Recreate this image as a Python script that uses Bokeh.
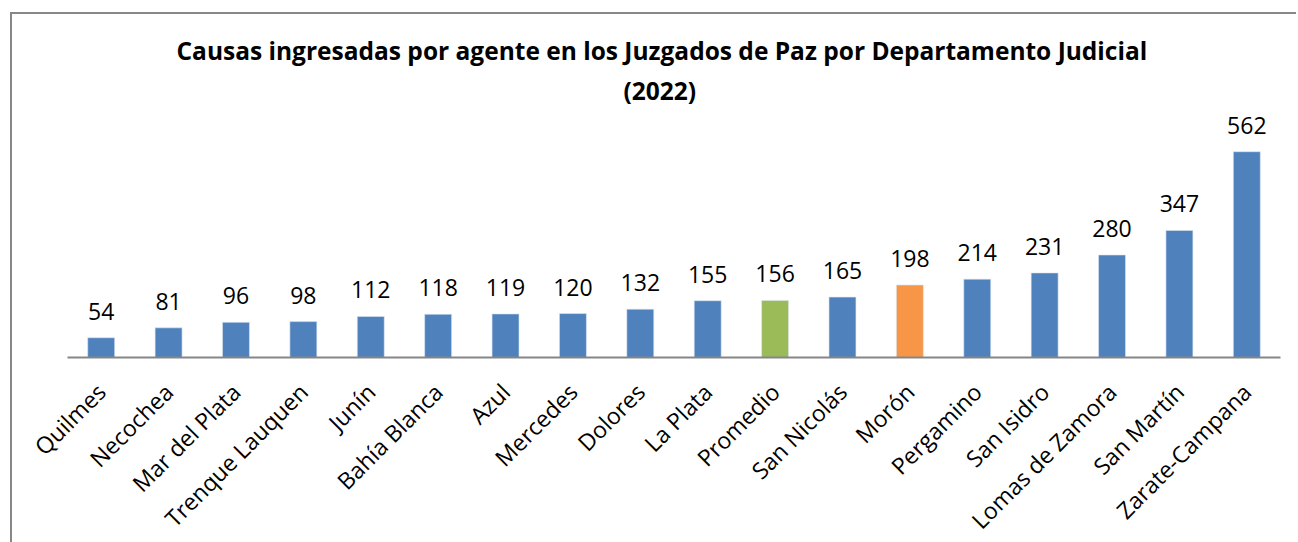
from bokeh.plotting import figure
from bokeh.models import ColumnDataSource, LabelSet, Title, Range1d
from bokeh.core.properties import value
from bokeh.embed import file_html
from bokeh.resources import INLINE
import math

categories = ["Quilmes", "Necochea", "Mar del Plata", "Trenque Lauquen", "Junín",
              "Bahía Blanca", "Azul", "Mercedes", "Dolores", "La Plata", "Promedio",
              "San Nicolás", "Morón", "Pergamino", "San Isidro", "Lomas de Zamora",
              "San Martín", "Zarate-Campana"]
values = [54, 81, 96, 98, 112, 118, 119, 120, 132, 155, 156, 165, 198, 214, 231, 280, 347, 562]

BLUE = "#4F81BD"
GREEN = "#9BBB59"
ORANGE = "#F79646"
colors = [GREEN if c == "Promedio" else ORANGE if c == "Morón" else BLUE for c in categories]

src = ColumnDataSource(dict(cat=categories, val=values, color=colors,
                            lab=[str(v) for v in values]))

p = figure(x_range=categories, y_range=Range1d(0, 680),
           frame_width=1213, frame_height=249,
           output_backend="svg", toolbar_location=None, title=None,
           min_border_left=55, min_border_right=16, min_border_top=94, min_border_bottom=10)
p.styles = {"border-left": "2px solid #878787", "border-top": "2px solid #878787",
            "margin-left": "10px", "margin-top": "12px"}

p.vbar(x="cat", top="val", width=0.4, source=src, fill_color="color",
       line_color="#dce6f2", line_width=1, line_alpha=0.6)

labels = LabelSet(x="cat", y="val", text="lab", source=src, y_offset=18,
                  text_align="center", text_baseline="alphabetic",
                  text_font=value("Open Sans"), text_font_size=value("23px"),
                  text_color=value("#000000"))
p.add_layout(labels)

p.add_layout(Title(text="(2022)", align="left", offset=556, text_font="Open Sans",
                   text_font_size="24.5px", text_font_style="bold", text_color="#000000",
                   standoff=4), "above")
p.add_layout(Title(text="Causas ingresadas por agente en los Juzgados de Paz por Departamento Judicial",
                   align="left", offset=109, text_font="Open Sans",
                   text_font_size="24.5px", text_font_style="bold", text_color="#000000",
                   standoff=5), "above")

p.yaxis.visible = False
p.xgrid.visible = False
p.ygrid.visible = False
p.outline_line_color = None
p.xaxis.axis_line_color = "#868686"
p.xaxis.axis_line_width = 2
p.xaxis.major_tick_line_color = None
p.xaxis.minor_tick_line_color = None
p.xaxis.major_label_orientation = math.pi / 4
p.xaxis.major_label_standoff = 24
p.xaxis.major_label_text_font = "Open Sans"
p.xaxis.major_label_text_font_size = "23px"
p.xaxis.major_label_text_line_height = 0.9
p.xaxis.major_label_text_color = "#000000"
p.x_range.range_padding = 0

open("out.html", "w").write(file_html(p, INLINE))
